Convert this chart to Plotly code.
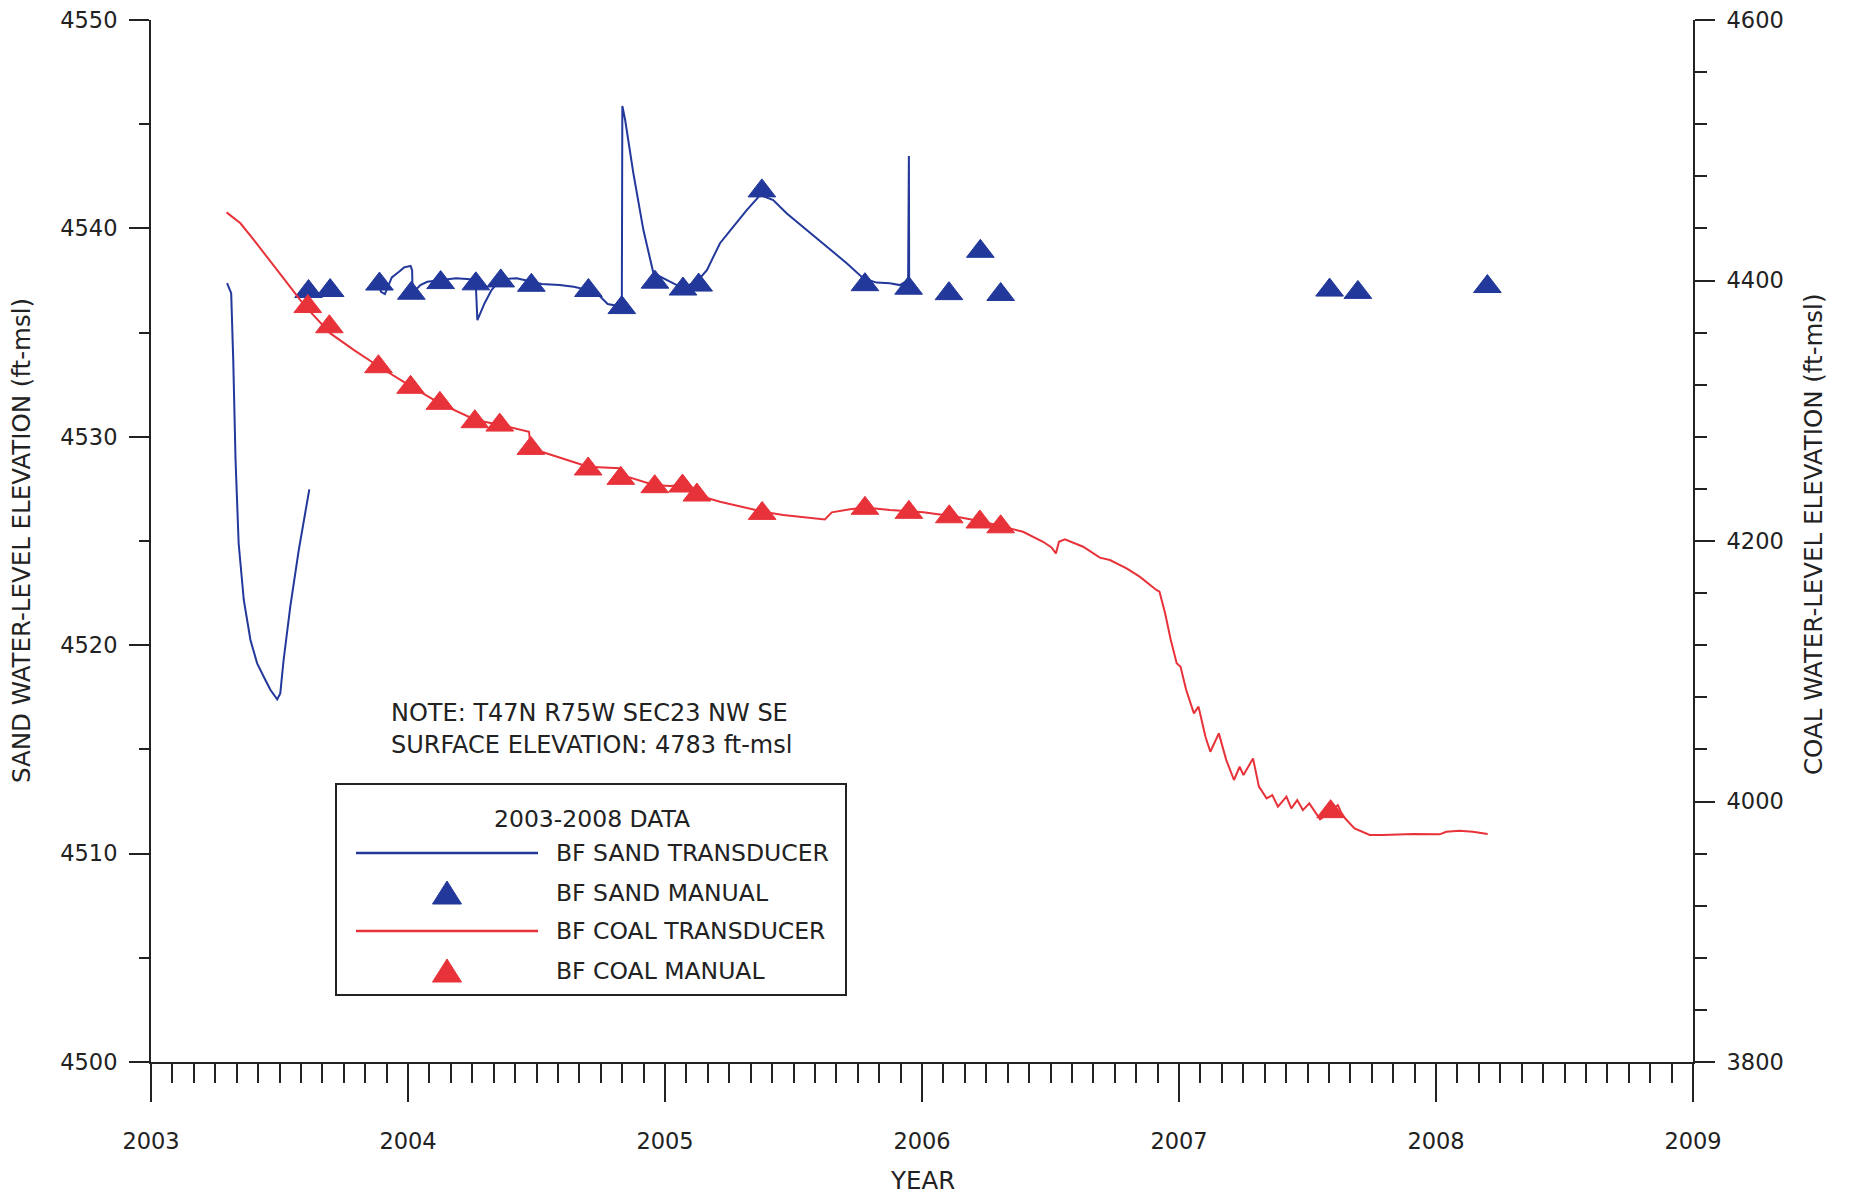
import plotly.graph_objects as go

# ---- BF sand well (left axis, ft-msl) ----
sand_tx_year = [
    2003.296, 2003.312, 2003.320, 2003.329, 2003.341, 2003.361, 2003.387, 2003.413,
    2003.445, 2003.465, 2003.491, 2003.503, 2003.516, 2003.542, 2003.575, 2003.594,
    2003.616, None,
    2003.889, 2003.895, 2003.910, 2003.937, 2003.965, 2003.985, 2004.010, 2004.016,
    2004.018, 2004.048, 2004.075, 2004.131, 2004.187, 2004.242, 2004.263, 2004.270,
    2004.298, 2004.325, 2004.360, 2004.423, 2004.478, 2004.520, 2004.590, 2004.645,
    2004.701, 2004.742, 2004.777, 2004.798, 2004.832, 2004.834, 2004.845, 2004.877,
    2004.916, 2004.955, 2005.013, 2005.046, 2005.078, 2005.124, 2005.163, 2005.214,
    2005.266, 2005.318, 2005.370, 2005.421, 2005.474, 2005.551, 2005.629, 2005.707,
    2005.771, 2005.823, 2005.875, 2005.914, 2005.946, 2005.949, 2005.950,
]
sand_tx_elev = [
    4537.37, 4536.89, 4533.69, 4528.89, 4524.89, 4522.17, 4520.25, 4519.13,
    4518.33, 4517.85, 4517.40, 4517.69, 4519.29, 4521.85, 4524.57, 4526.01,
    4527.48, None,
    4537.20, 4536.96, 4536.85, 4537.65, 4537.92, 4538.13, 4538.20, 4538.00,
    4536.89, 4537.28, 4537.44, 4537.52, 4537.61, 4537.56, 4537.52, 4535.60,
    4536.41, 4537.04, 4537.56, 4537.61, 4537.44, 4537.33, 4537.28, 4537.20,
    4537.04, 4536.80, 4536.37, 4536.32, 4536.24, 4545.87, 4545.20, 4542.64,
    4539.92, 4537.85, 4537.49, 4537.28, 4537.20, 4537.44, 4538.00, 4539.29,
    4540.08, 4540.88, 4541.60, 4541.36, 4540.72, 4539.92, 4539.12, 4538.33,
    4537.61, 4537.40, 4537.37, 4537.28, 4537.52, 4543.47, 4537.40,
]

sand_manual_year = [
    2003.613, 2003.697, 2003.889, 2004.013, 2004.127, 2004.264, 2004.361, 2004.480,
    2004.702, 2004.832, 2004.961, 2005.070, 2005.131, 2005.377, 2005.778, 2005.948,
    2006.105, 2006.227, 2006.306, 2007.586, 2007.696, 2008.200,
]
sand_manual_elev = [
    4536.97, 4537.02, 4537.33, 4536.89, 4537.40, 4537.34, 4537.48, 4537.27,
    4537.02, 4536.20, 4537.42, 4537.09, 4537.28, 4541.80, 4537.30, 4537.13,
    4536.87, 4538.90, 4536.83, 4537.04, 4536.93, 4537.21,
]

# ---- BF coal well (right axis, ft-msl) ----
coal_tx_year = [
    2003.294, 2003.348, 2003.400, 2003.452, 2003.516, 2003.581, 2003.614, 2003.698,
    2003.790, 2003.888, 2004.013, 2004.124, 2004.263, 2004.360, 2004.471, 2004.475,
    2004.520, 2004.701, 2004.777, 2004.825, 2004.853, 2004.957, 2005.020, 2005.061,
    2005.124, 2005.214, 2005.381, 2005.460, 2005.622, 2005.649, 2005.720, 2005.778,
    2005.875, 2006.005, 2006.135, 2006.238, 2006.316, 2006.393, 2006.471, 2006.504,
    2006.521, 2006.533, 2006.556, 2006.627, 2006.692, 2006.731, 2006.796, 2006.847,
    2006.912, 2006.924, 2006.946, 2006.968, 2006.991, 2007.006, 2007.028, 2007.058,
    2007.076, 2007.103, 2007.122, 2007.155, 2007.184, 2007.214, 2007.236, 2007.251,
    2007.288, 2007.311, 2007.341, 2007.363, 2007.385, 2007.418, 2007.437, 2007.460,
    2007.482, 2007.507, 2007.549, 2007.575, 2007.618, 2007.630, 2007.646, 2007.683,
    2007.742, 2007.793, 2007.910, 2008.014, 2008.040, 2008.091, 2008.143, 2008.201,
]
coal_tx_elev = [
    4452.3, 4443.9, 4431.1, 4418.3, 4401.7, 4385.0, 4377.3, 4359.4,
    4346.6, 4333.8, 4318.5, 4305.7, 4292.9, 4289.0, 4283.9, 4276.0,
    4268.5, 4257.0, 4256.3, 4255.8, 4249.4, 4243.0, 4242.2, 4243.0,
    4235.3, 4230.2, 4222.5, 4219.9, 4216.6, 4222.0, 4224.3, 4225.8,
    4223.8, 4222.0, 4218.6, 4214.8, 4210.9, 4207.1, 4199.4, 4195.1,
    4190.5, 4199.4, 4201.3, 4195.6, 4187.2, 4185.4, 4179.0, 4172.6,
    4162.4, 4161.1, 4144.5, 4124.0, 4106.1, 4103.5, 4085.6, 4067.7,
    4072.8, 4049.7, 4038.2, 4052.3, 4031.8, 4016.5, 4026.7, 4020.3,
    4033.1, 4011.4, 4002.4, 4004.9, 3996.0, 4003.7, 3994.7, 4001.1,
    3993.4, 3998.6, 3986.3, 3990.0, 3997.3, 3992.0, 3987.1, 3979.4,
    3974.3, 3974.3, 3975.0, 3974.8, 3976.8, 3977.6, 3976.8, 3975.0,
]

coal_manual_year = [
    2003.610, 2003.694, 2003.885, 2004.010, 2004.124, 2004.260, 2004.357, 2004.478,
    2004.701, 2004.828, 2004.960, 2005.068, 2005.124, 2005.378, 2005.778, 2005.949,
    2006.106, 2006.225, 2006.306, 2007.590,
]
coal_manual_elev = [
    4380.0, 4364.5, 4333.8, 4318.0, 4305.7, 4291.6, 4289.0, 4271.1,
    4255.3, 4248.1, 4241.7, 4242.2, 4235.3, 4221.2, 4225.1, 4222.0,
    4218.6, 4214.6, 4210.9, 3992.2,
]

year_ticks = [2003, 2004, 2005, 2006, 2007, 2008, 2009]
sand_ticks = [4500, 4510, 4520, 4530, 4540, 4550]
coal_ticks = [3800, 4000, 4200, 4400, 4600]

legend_title = "2003-2008 DATA"
legend_labels = ["BF SAND TRANSDUCER", "BF SAND MANUAL", "BF COAL TRANSDUCER", "BF COAL MANUAL"]
note_lines = ["NOTE: T47N R75W SEC23 NW SE", "SURFACE ELEVATION: 4783 ft-msl"]

BLUE = "#22389a"
RED = "#e8323a"
INK = "#222222"
FONT = "DejaVu Sans"

W, H = 1849, 1197
PL, PR, PT, PB = 151, 1693, 20, 1062


def xp(px):
    return (px - PL) / (PR - PL)


def yp(py):
    return (PB - py) / (PB - PT)


fig = go.Figure()
fig.add_trace(go.Scatter(x=sand_tx_year, y=sand_tx_elev, mode="lines",
                         line=dict(color=BLUE, width=2), connectgaps=False,
                         name=legend_labels[0], showlegend=False))
fig.add_trace(go.Scatter(x=sand_manual_year, y=sand_manual_elev, mode="markers",
                         marker=dict(symbol="triangle-up", size=24, color=BLUE,
                                     line=dict(color=BLUE, width=1)),
                         name=legend_labels[1], showlegend=False))
fig.add_trace(go.Scatter(x=coal_tx_year, y=coal_tx_elev, mode="lines", yaxis="y2",
                         line=dict(color=RED, width=2),
                         name=legend_labels[2], showlegend=False))
fig.add_trace(go.Scatter(x=coal_manual_year, y=coal_manual_elev, mode="markers", yaxis="y2",
                         marker=dict(symbol="triangle-up", size=24, color=RED,
                                     line=dict(color=RED, width=1)),
                         name=legend_labels[3], showlegend=False))

axis_common = dict(showline=True, linecolor=INK, linewidth=2, showgrid=False,
                   zeroline=False, ticks="outside", tickcolor=INK, tickwidth=2,
                   tickfont=dict(family=FONT, size=22.5, color=INK))

fig.update_layout(
    width=W, height=H,
    margin=dict(l=PL, r=W - PR, t=PT, b=H - PB, autoexpand=False),
    paper_bgcolor="white", plot_bgcolor="white",
    showlegend=False,
    xaxis=dict(range=[2003, 2009], tickvals=year_ticks, ticklen=38,
               ticklabelstandoff=20,
               minor=dict(dtick=1 / 12, tick0=2003, ticks="outside", ticklen=19,
                          tickwidth=2, tickcolor=INK, showgrid=False),
               **axis_common),
    yaxis=dict(range=[4500, 4550], tickvals=sand_ticks, ticklen=20,
               ticklabelstandoff=7,
               minor=dict(dtick=5, tick0=4500, ticks="outside", ticklen=10,
                          tickwidth=2, tickcolor=INK, showgrid=False),
               **axis_common),
    yaxis2=dict(range=[3800, 4600], tickvals=coal_ticks, ticklen=20,
                overlaying="y", side="right", anchor="x",
                ticklabelstandoff=7,
                minor=dict(dtick=40, tick0=3800, ticks="outside", ticklen=12,
                           tickwidth=2, tickcolor=INK, showgrid=False),
                **axis_common),
)

title_font = dict(family=FONT, size=24.5, color=INK)
note_font = dict(family=FONT, size=24, color=INK)
entry_font = dict(family=FONT, size=23.5, color=INK)

ann = [
    dict(x=xp(21), y=0.5, text="SAND WATER-LEVEL ELEVATION (ft-msl)", textangle=-90,
         xanchor="center", yanchor="middle", font=title_font),
    dict(x=xp(1813), y=yp(535), text="COAL WATER-LEVEL ELEVATION (ft-msl)", textangle=-90,
         xanchor="center", yanchor="middle", font=title_font),
    dict(x=xp(922), y=yp(1180), text="YEAR", xanchor="center", yanchor="middle",
         font=title_font),
    dict(x=xp(389), y=yp(713), text=note_lines[0], xanchor="left", yanchor="middle",
         font=note_font),
    dict(x=xp(389), y=yp(745), text=note_lines[1], xanchor="left", yanchor="middle",
         font=note_font),
    dict(x=xp(592), y=yp(819), text=legend_title, xanchor="center", yanchor="middle",
         font=entry_font),
]

shapes = [dict(type="rect", xref="paper", yref="paper", x0=xp(336), x1=xp(846),
               y0=yp(995), y1=yp(784), line=dict(color=INK, width=2), fillcolor="white",
               layer="above")]

rows = [853, 893, 931, 971]
kinds = [("line", BLUE), ("tri", BLUE), ("line", RED), ("tri", RED)]
for label, (kind, color), ry in zip(legend_labels, kinds, rows):
    if kind == "line":
        shapes.append(dict(type="line", xref="paper", yref="paper",
                           x0=xp(356), x1=xp(538), y0=yp(ry), y1=yp(ry),
                           line=dict(color=color, width=2.5), layer="above"))
    else:
        cx, half, up, down = 447, 14.5, 12, 11
        path = (f"M {xp(cx - half)} {yp(ry + down)} L {xp(cx + half)} {yp(ry + down)} "
                f"L {xp(cx)} {yp(ry - up)} Z")
        shapes.append(dict(type="path", xref="paper", yref="paper", path=path,
                           fillcolor=color, line=dict(color=color, width=1), layer="above"))
    ann.append(dict(x=xp(554), y=yp(ry), text=label, xanchor="left", yanchor="middle",
                    font=entry_font))

for a in ann:
    a.update(xref="paper", yref="paper", showarrow=False)

fig.update_layout(annotations=ann, shapes=shapes)

fig.write_html("out.html")
